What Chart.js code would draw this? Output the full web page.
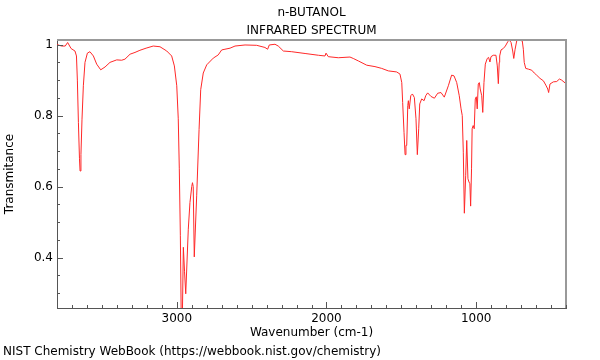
<!DOCTYPE html>
<html lang="en">
<head>
  <meta charset="UTF-8">
  <title>n-BUTANOL infrared spectrum</title>
  <script src="https://cdn.jsdelivr.net/npm/chart.js"></script>
  <style>
    html, body { margin: 0; padding: 0; background: #fff; }
  </style>
</head>
<body>
  <canvas id="grafik" width="600" height="360"></canvas>

  <script>
    // spectrum, left to right (wavenumber falls)
    const wavenumbers = [
      3800, 3769, 3745, 3729, 3706, 3680, 3670, 3664, 3657, 3650, 3646, 3640, 3633, 3624, 3613, 3597,
      3580, 3557, 3535, 3508, 3479, 3446, 3401, 3368, 3346, 3312, 3279, 3246, 3205, 3157, 3112, 3067,
      3034, 3016, 3000, 2990, 2983, 2976, 2970, 2962, 2956, 2948, 2940, 2923, 2912, 2900, 2895, 2890,
      2883, 2867, 2851, 2840, 2823, 2800, 2756, 2723, 2700, 2678, 2644, 2611, 2544, 2466, 2411, 2393,
      2382, 2344, 2322, 2288, 2232, 2143, 2054, 2010, 2003, 1988, 1921, 1843, 1821, 1787, 1731, 1676,
      1631, 1587, 1531, 1509, 1497, 1491, 1482, 1475, 1469, 1464, 1457, 1453, 1447, 1437, 1426, 1413,
      1402, 1393, 1384, 1377, 1364, 1348, 1337, 1324, 1302, 1279, 1257, 1235, 1213, 1186, 1164, 1148,
      1130, 1113, 1101, 1093, 1086, 1079, 1070, 1063, 1055, 1048, 1042, 1037, 1031, 1027, 1020, 1013,
      1006, 999, 993, 986, 979, 973, 963, 956, 948, 939, 926, 917, 908, 901, 886, 868,
      859, 852, 846, 843, 834, 819, 805, 789, 779, 767, 756, 749, 740, 729, 707, 692,
      685, 679, 669, 652, 629, 612, 596, 574, 551, 535, 522, 516, 507, 485, 462, 444,
      429, 406, 400
    ];
    const transmittance = [
      1.000, 0.996, 0.996, 1.006, 0.989, 0.982, 0.968, 0.900, 0.780, 0.680, 0.644, 0.690, 0.790, 0.884, 0.950, 0.976,
      0.980, 0.968, 0.945, 0.929, 0.937, 0.950, 0.957, 0.956, 0.959, 0.973, 0.978, 0.984, 0.990, 0.996, 0.994, 0.982,
      0.968, 0.940, 0.884, 0.791, 0.650, 0.463, 0.220, 0.250, 0.429, 0.360, 0.298, 0.480, 0.555, 0.600, 0.611, 0.600,
      0.402, 0.574, 0.761, 0.873, 0.920, 0.943, 0.962, 0.971, 0.985, 0.987, 0.990, 0.996, 0.999, 0.998, 0.992, 0.987,
      0.999, 1.001, 0.996, 0.982, 0.980, 0.975, 0.970, 0.968, 0.976, 0.966, 0.963, 0.965, 0.961, 0.954, 0.942, 0.938,
      0.933, 0.926, 0.923, 0.917, 0.893, 0.837, 0.753, 0.690, 0.716, 0.716, 0.828, 0.842, 0.819, 0.856, 0.861, 0.851,
      0.791, 0.690, 0.763, 0.833, 0.847, 0.842, 0.856, 0.864, 0.854, 0.849, 0.863, 0.865, 0.852, 0.884, 0.914, 0.912,
      0.893, 0.856, 0.819, 0.800, 0.697, 0.525, 0.632, 0.730, 0.622, 0.613, 0.608, 0.545, 0.650, 0.763, 0.772, 0.763,
      0.847, 0.853, 0.819, 0.889, 0.893, 0.875, 0.856, 0.809, 0.893, 0.945, 0.961, 0.964, 0.951, 0.966, 0.970, 0.970,
      0.940, 0.890, 0.950, 0.968, 0.985, 0.989, 0.996, 1.008, 1.013, 1.006, 0.982, 0.961, 0.987, 1.011, 1.013, 1.010,
      0.987, 0.950, 0.933, 0.931, 0.928, 0.920, 0.914, 0.905, 0.898, 0.886, 0.875, 0.865, 0.889, 0.895, 0.896, 0.903,
      0.900, 0.892, 0.890
    ];

    const xMajorTicks = [3000, 2000, 1000];
    const yMajorTicks = [1, 0.8, 0.6, 0.4];
    const yTickValues = [0.3, 0.35, 0.4, 0.45, 0.5, 0.55, 0.6, 0.65, 0.7, 0.75, 0.8, 0.85, 0.9, 0.95, 1];
    const xTickValues = [];
    for (let v = 400; v <= 3800; v += 100) xTickValues.push(v);

    const font = { family: "'DejaVu Sans', sans-serif", size: 12, weight: 'normal' };
    const isYMajor = v => yMajorTicks.some(m => Math.abs(m - v) < 1e-6);

    // frame on top/right + inward tick marks
    const frameAndTicks = {
      id: 'frameAndTicks',
      afterDraw(chart) {
        const { ctx, chartArea: a, scales: { x, y } } = chart;
        ctx.save();
        ctx.strokeStyle = '#999';
        ctx.lineWidth = 2;
        ctx.beginPath();
        ctx.moveTo(a.left, a.top);
        ctx.lineTo(a.right, a.top);
        ctx.lineTo(a.right, a.bottom);
        ctx.stroke();

        ctx.strokeStyle = '#555';
        ctx.lineWidth = 1;
        ctx.beginPath();
        x.ticks.forEach(t => {
          const px = Math.round(x.getPixelForValue(t.value)) + 0.5;
          const len = xMajorTicks.includes(t.value) ? 6 : 3;
          ctx.moveTo(px, a.bottom);
          ctx.lineTo(px, a.bottom - len);
        });
        y.ticks.forEach(t => {
          const py = Math.round(y.getPixelForValue(t.value)) + 0.5;
          const len = isYMajor(t.value) ? 6 : 3;
          ctx.moveTo(a.left, py);
          ctx.lineTo(a.left + len, py);
        });
        ctx.stroke();
        ctx.restore();
      }
    };

    new Chart(document.getElementById('grafik'), {
      type: 'line',
      data: {
        datasets: [{
          data: wavenumbers.map((w, i) => ({ x: w, y: transmittance[i] })),
          borderColor: 'rgb(255, 40, 40)',
          borderWidth: 1,
          pointRadius: 0,
          tension: 0
        }]
      },
      options: {
        responsive: false,
        animation: false,
        devicePixelRatio: 1,
        layout: { padding: { left: 3, right: 34, top: 0, bottom: 0 } },
        plugins: {
          legend: { display: false },
          tooltip: { enabled: false },
          title: {
            display: true,
            text: ['n-BUTANOL', 'INFRARED SPECTRUM'],
            fullSize: false,
            color: '#000',
            font: { ...font, lineHeight: 1.5 },
            padding: { top: 4, bottom: 0 }
          },
          subtitle: {
            display: true,
            position: 'bottom',
            align: 'start',
            text: 'NIST Chemistry WebBook (https://webbook.nist.gov/chemistry)',
            color: '#000',
            font: { ...font, lineHeight: 1.25 },
            padding: { top: 0, bottom: 1 }
          }
        },
        scales: {
          x: {
            type: 'linear',
            reverse: true,
            min: 400,
            max: 3800,
            afterBuildTicks: s => { s.ticks = xTickValues.map(v => ({ value: v })); },
            afterFit: s => { s.height = 36; },
            grid: { display: false, drawTicks: false },
            border: { display: true, color: '#555', width: 1 },
            ticks: {
              autoSkip: false,
              maxRotation: 0,
              padding: 4,
              color: '#000',
              font: font,
              callback: v => xMajorTicks.includes(v) ? String(v) : ''
            },
            title: {
              display: true,
              text: 'Wavenumber (cm-1)',
              color: '#000',
              font: font,
              padding: { top: 0, bottom: 4 }
            }
          },
          y: {
            min: 0.258,
            max: 1.013,
            afterBuildTicks: s => { s.ticks = yTickValues.map(v => ({ value: v })); },
            afterFit: s => { s.width = 54; },
            grid: { display: false, drawTicks: false },
            border: { display: true, color: '#555', width: 1 },
            ticks: {
              padding: 4,
              color: '#000',
              font: font,
              callback: v => isYMajor(v) ? String(+v.toFixed(1)) : ''
            },
            title: {
              display: true,
              text: 'Transmitance',
              color: '#000',
              font: font,
              padding: { top: 0, bottom: 0 }
            }
          }
        }
      },
      plugins: [frameAndTicks]
    });
  </script>
</body>
</html>
